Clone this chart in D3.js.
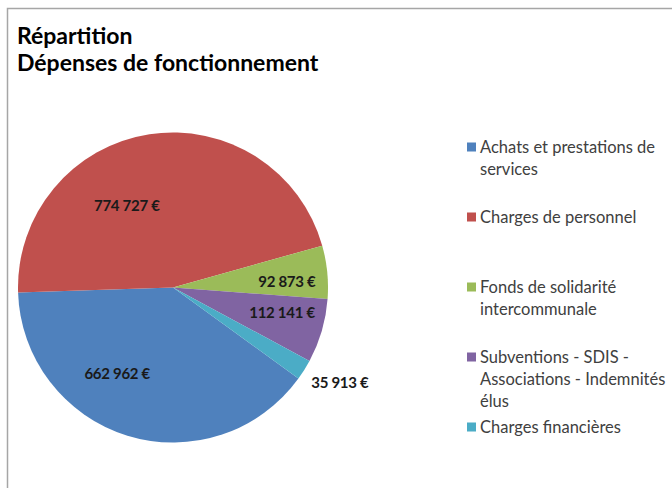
<!DOCTYPE html>
<html>
<head>
<meta charset="utf-8">
<script src="https://cdn.jsdelivr.net/npm/d3@7"></script>
<style>
  body { margin: 0; background: #fff; }
  text { font-family: Lato, "Open Sans", sans-serif; }
</style>
</head>
<body>
<svg id="chart" width="672" height="488"></svg>
<script>
// data
const categories = [
  "Achats et prestations de services",
  "Charges de personnel",
  "Fonds de solidarité intercommunale",
  "Subventions - SDIS - Associations - Indemnités élus",
  "Charges financières"
];
const values = [662962, 774727, 92873, 112141, 35913];
const colors = ["#4F81BD", "#C0504D", "#9BBB59", "#8064A2", "#4BACC6"];
const titleLines = ["Répartition", "Dépenses de fonctionnement"];

const svg = d3.select("#chart"),
  width = +svg.attr("width"),
  height = +svg.attr("height");

// chart frame (cut by the screenshot on the right and bottom)
svg.append("rect")
  .attr("x", 7.5).attr("y", 8.5)
  .attr("width", width + 20).attr("height", height + 20)
  .attr("fill", "#fff")
  .attr("stroke", "#a6a6a6")
  .attr("stroke-width", 1.5)

// title
svg.append("g").selectAll("text")
  .data(titleLines)
  .join("text")
    .attr("x", 17)
    .attr("y", (d, i) => 44 + i * 27)
    .text(d => d)
    .style("font-size", "23px")
    .style("font-weight", "bold")
    .style("fill", "#000")

// pie
const cx = 173, cy = 287.5, radius = 155;
const a0 = 126 * Math.PI / 180; // first slice starts at about 4 o'clock

const pie = d3.pie().sort(null).startAngle(a0).endAngle(a0 + 2 * Math.PI);
const arc = d3.arc().innerRadius(0).outerRadius(radius);
const arcs = pie(values);

const g = svg.append("g").attr("transform", `translate(${cx},${cy})`);

g.selectAll("path")
  .data(arcs)
  .join("path")
    .attr("d", arc)
    .attr("fill", (d, i) => colors[i])

// label placement tweaks (angle shift in degrees, distance from centre)
const labelLayout = [
  { shift: 15.7, r: 103 },
  { shift: -20.7, r: 94 },
  { shift: 2.9, r: 114 },
  { shift: -3.1, r: 112 },
  { shift: -2.5, r: 192 }
];
const fmt = v => d3.format(",")(v).replace(/,/g, " ") + " €";

g.selectAll("text.lbl")
  .data(arcs)
  .join("text")
    .attr("class", "lbl")
    .attr("transform", (d, i) => {
      const a = (d.startAngle + d.endAngle) / 2 + labelLayout[i].shift * Math.PI / 180;
      const r = labelLayout[i].r;
      return `translate(${r * Math.sin(a)},${-r * Math.cos(a)})`;
    })
    .attr("text-anchor", "middle")
    .attr("dy", "0.35em")
    .text(d => fmt(d.data))
    .style("font-size", "15px")
    .style("font-weight", "bold")
    .style("letter-spacing", "-0.3px")
    .style("fill", "#1a1a1a")

// legend
const legendX = 467, legendY = 147, legendStep = 70, lineH = 22, maxW = 192;
const legend = svg.append("g");

categories.forEach((name, i) => {
  const item = legend.append("g").attr("transform", `translate(${legendX},${legendY + i * legendStep})`);
  item.append("rect")
    .attr("x", 0).attr("y", -4.5)
    .attr("width", 9).attr("height", 9)
    .attr("fill", colors[i])
  const t = item.append("text")
    .attr("x", 13)
    .attr("y", 0)
    .style("font-size", "16.5px")
    .style("fill", "#404040")
  // simple word wrap
  const words = name.split(" ");
  let line = [], lineNo = 0;
  let tspan = t.append("tspan").attr("x", 13).attr("dy", "0.35em");
  words.forEach(w => {
    line.push(w);
    tspan.text(line.join(" "));
    if (tspan.node().getComputedTextLength() > maxW && line.length > 1) {
      line.pop();
      tspan.text(line.join(" "));
      line = [w];
      lineNo++;
      tspan = t.append("tspan").attr("x", 13).attr("y", lineNo * lineH).attr("dy", "0.35em").text(w);
    }
  });
});
</script>
</body>
</html>
